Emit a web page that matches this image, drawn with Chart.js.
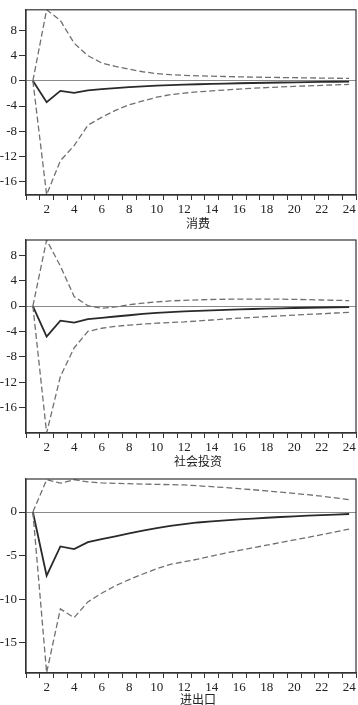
<!DOCTYPE html>
<html>
<head>
<meta charset="utf-8">
<script src="https://cdn.jsdelivr.net/npm/chart.js@4.4.1/dist/chart.umd.min.js"></script>
<style>
  html, body { margin: 0; padding: 0; background: #fff; }
  body { width: 358px; height: 705px; position: relative; overflow: hidden; }
  .panel { position: absolute; left: 0; width: 358px; }
  .ttl { position: absolute; left: 148px; width: 100px; text-align: center;
         font-family: "Noto Sans CJK SC", sans-serif; font-size: 12px; line-height: 14px; color: #222; }
</style>
</head>
<body>
<div class="panel" style="top:0px;height:220px"><canvas id="c1"></canvas></div>
<div class="panel" style="top:220px;height:238px"><canvas id="c2"></canvas></div>
<div class="panel" style="top:458px;height:240px"><canvas id="c3"></canvas></div>
<div class="ttl" style="top:216px">消费</div>
<div class="ttl" style="top:454px">社会投资</div>
<div class="ttl" style="top:692px">进出口</div>
<script>
const periods = [1,2,3,4,5,6,7,8,9,10,11,12,13,14,15,16,17,18,19,20,21,22,23,24];

const consMid = [0,-3.4,-1.6,-1.9,-1.5,-1.3,-1.15,-1.0,-0.88,-0.77,-0.68,-0.6,-0.54,-0.48,-0.43,-0.38,-0.34,-0.3,-0.26,-0.23,-0.2,-0.17,-0.14,-0.12];
const consUp  = [0,11.3,9.6,6.0,4.0,2.85,2.3,1.85,1.45,1.15,0.98,0.88,0.8,0.74,0.69,0.64,0.6,0.56,0.53,0.5,0.47,0.44,0.42,0.4];
const consLow = [0,-18.1,-12.7,-10.3,-7.05,-5.8,-4.7,-3.8,-3.2,-2.6,-2.2,-1.95,-1.75,-1.6,-1.45,-1.3,-1.18,-1.07,-0.97,-0.88,-0.8,-0.72,-0.64,-0.56];

const invMid = [0,-4.8,-2.3,-2.6,-2.05,-1.85,-1.65,-1.45,-1.25,-1.08,-0.95,-0.85,-0.76,-0.68,-0.6,-0.53,-0.47,-0.41,-0.36,-0.31,-0.27,-0.23,-0.19,-0.16];
const invUp  = [0,10.4,6.3,1.5,0.05,-0.35,-0.15,0.2,0.45,0.65,0.8,0.9,0.97,1.03,1.07,1.1,1.1,1.1,1.08,1.05,1.0,0.95,0.9,0.85];
const invLow = [0,-20,-11.1,-6.6,-4.0,-3.5,-3.2,-3.0,-2.85,-2.7,-2.6,-2.5,-2.35,-2.2,-2.05,-1.92,-1.8,-1.68,-1.55,-1.43,-1.32,-1.22,-1.1,-1.0];

const tradeMid = [0,-7.3,-3.95,-4.25,-3.45,-3.1,-2.78,-2.45,-2.14,-1.85,-1.6,-1.38,-1.2,-1.07,-0.95,-0.85,-0.75,-0.66,-0.57,-0.49,-0.42,-0.35,-0.29,-0.23];
const tradeUp  = [0,3.7,3.3,3.7,3.45,3.33,3.28,3.24,3.2,3.17,3.13,3.1,3.0,2.9,2.8,2.68,2.55,2.42,2.28,2.13,1.98,1.82,1.62,1.41];
const tradeLow = [0,-18.4,-11.1,-12.1,-10.3,-9.3,-8.45,-7.75,-7.1,-6.5,-6.0,-5.7,-5.4,-5.05,-4.7,-4.4,-4.1,-3.8,-3.5,-3.2,-2.9,-2.6,-2.28,-1.95];

const yTicks12 = [8,4,0,-4,-8,-12,-16];
const yTicks3 = [0,-5,-10,-15];

const tickFont = { family: "'Liberation Serif', 'Times New Roman', serif", size: 13 };

const borderPlugin = {
  id: 'frame',
  afterDraw(chart) {
    const a = chart.chartArea, c = chart.ctx;
    c.save();
    c.strokeStyle = '#333';
    c.lineWidth = 1.2;
    c.strokeRect(a.left, a.top, a.right - a.left, a.bottom - a.top);
    c.restore();
  }
};

function makeChart(id, mid, up, low, yMin, yMax, yTicks, padTop) {
  const dashed = (d) => ({ data: d, borderColor: '#707070', borderWidth: 1.3, borderDash: [6, 3], pointRadius: 0, tension: 0, fill: false });
  return new Chart(document.getElementById(id), {
    type: 'line',
    data: {
      labels: periods,
      datasets: [
        dashed(up),
        dashed(low),
        { data: mid, borderColor: '#2a2a2a', borderWidth: 1.8, pointRadius: 0, tension: 0, fill: false }
      ]
    },
    options: {
      responsive: true,
      maintainAspectRatio: false,
      animation: false,
      events: [],
      layout: { padding: { top: padTop, right: 2, left: 0, bottom: 0 } },
      plugins: { legend: { display: false }, tooltip: { enabled: false } },
      scales: {
        x: {
          type: 'category',
          offset: true,
          grid: { display: true, offset: true, drawOnChartArea: false, drawTicks: true, tickLength: 5, tickColor: '#333', tickWidth: 1 },
          border: { display: true, color: '#333', width: 1.2 },
          ticks: {
            autoSkip: false, maxRotation: 0, minRotation: 0, padding: 2,
            font: tickFont, color: '#222',
            callback: function (v, i) { return periods[i] % 2 === 0 ? String(periods[i]) : ''; }
          },
          afterFit(s) { s.height = 25; }
        },
        y: {
          min: yMin, max: yMax,
          afterBuildTicks(s) { s.ticks = yTicks.map(v => ({ value: v })); },
          grid: {
            drawOnChartArea: true, drawTicks: true, tickLength: 7, tickWidth: 1,
            color: (ctx) => (ctx.tick && ctx.tick.value === 0 ? '#8a8a8a' : 'rgba(0,0,0,0)'),
            tickColor: '#333', lineWidth: 1
          },
          border: { display: true, color: '#333', width: 1.2 },
          ticks: { font: tickFont, color: '#222', padding: 2 },
          afterFit(s) { s.width = 26; }
        }
      }
    },
    plugins: [borderPlugin]
  });
}

makeChart('c1', consMid, consUp, consLow, -18.15, 11.3, yTicks12, 1);
makeChart('c2', invMid, invUp, invLow, -20, 10.4, yTicks12, 20);
makeChart('c3', tradeMid, tradeUp, tradeLow, -18.44, 3.78, yTicks3, 21);
</script>
</body>
</html>
